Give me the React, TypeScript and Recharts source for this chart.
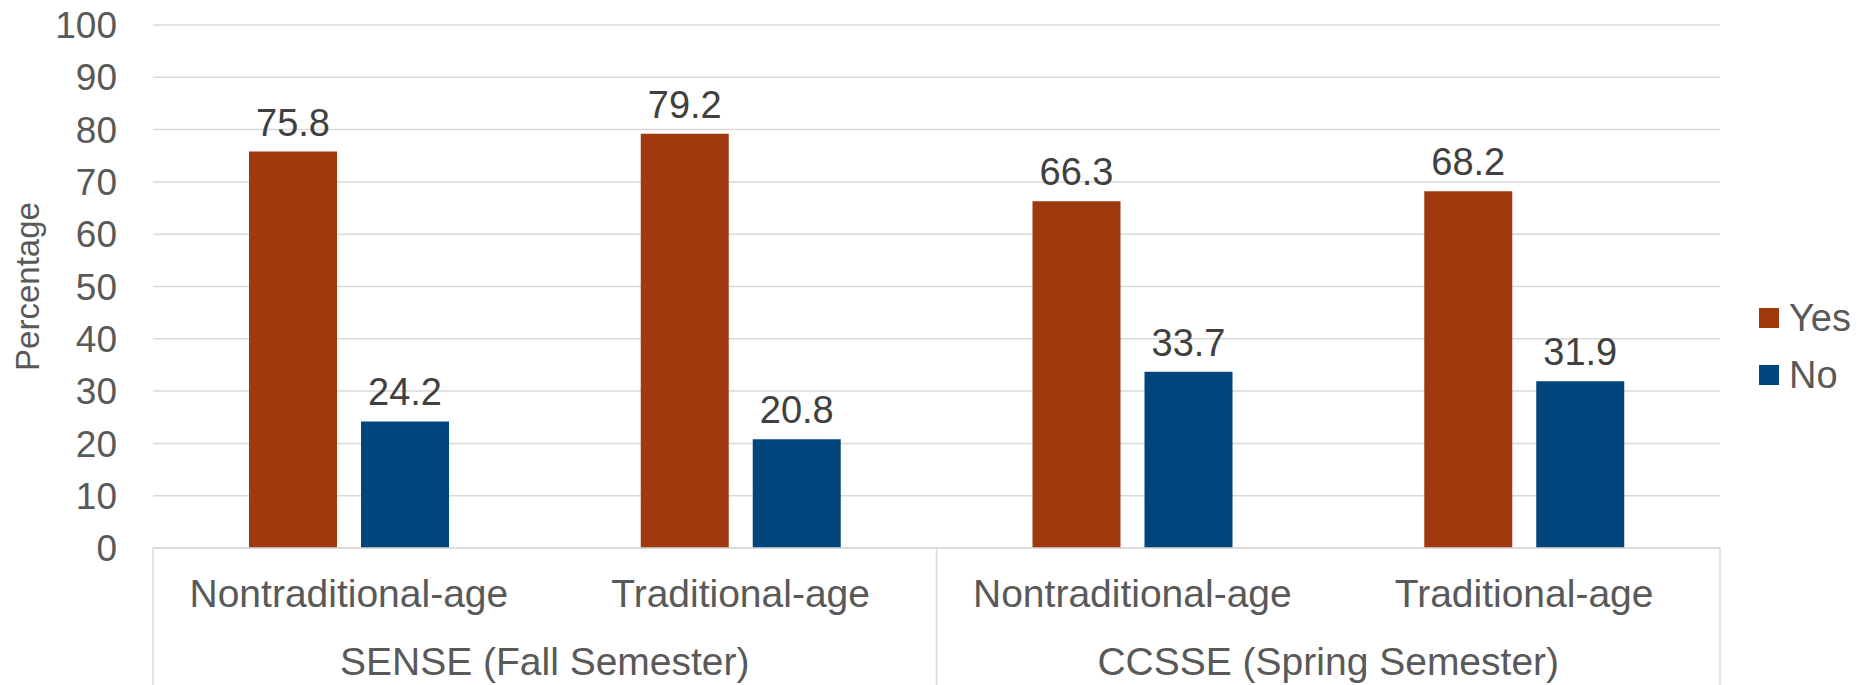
import { BarChart, Bar, XAxis, YAxis, CartesianGrid, Legend, LabelList } from "recharts";

const categories = ["Nontraditional-age", "Traditional-age", "Nontraditional-age", "Traditional-age"];
const groups = ["SENSE (Fall Semester)", "SENSE (Fall Semester)", "CCSSE (Spring Semester)", "CCSSE (Spring Semester)"];
const yesValues = [75.8, 79.2, 66.3, 68.2];
const noValues = [24.2, 20.8, 33.7, 31.9];
const yTicks = [0, 10, 20, 30, 40, 50, 60, 70, 80, 90, 100];
const legendOrder = ["Yes", "No"];

const data = categories.map((c, i) => ({ id: `${groups[i]}|${c}`, cat: c, group: groups[i], yes: yesValues[i], no: noValues[i] }));

const FONT = '"Liberation Sans", Arial, sans-serif';
const GRID = "#d9d9d9";
const TEXT = "#595959";

const CategoryTick = ({ x, y, index, payload }: any) => {
    const half = payload?.offset ?? 0;
    const isStart = index === 0 || groups[index] !== groups[index - 1];
    const isLast = index === categories.length - 1;
    return (
        <g>
            {isStart && <line x1={x - half} x2={x - half} y1={y} y2={y + 140} stroke={GRID} strokeWidth={1.5} />}
            {isLast && <line x1={x + half} x2={x + half} y1={y} y2={y + 140} stroke={GRID} strokeWidth={1.5} />}
            <text x={x} y={y + 59} textAnchor="middle" fontSize={39} fill={TEXT}>
                {categories[index]}
            </text>
        </g>
    );
};

const GroupTick = ({ x, y, payload }: any) => (
    <text x={x} y={y + 57} textAnchor="middle" fontSize={39} fill={TEXT}>
        {payload.value}
    </text>
);

const YLabel = ({ viewBox }: any) => {
    const cx = viewBox.x + 27;
    const cy = viewBox.y + viewBox.height / 2;
    return (
        <text x={cx} y={cy} transform={`rotate(-90 ${cx} ${cy})`} textAnchor="middle" dominantBaseline="central" fontSize={33} fill={TEXT}>
            Percentage
        </text>
    );
};

const LegendContent = ({ payload }: any) => {
    const items = [...(payload || [])].sort((a: any, b: any) => legendOrder.indexOf(a.value) - legendOrder.indexOf(b.value));
    return (
        <div style={{ fontFamily: FONT }}>
            {items.map((p: any, i: number) => (
                <div key={i} style={{ display: "flex", alignItems: "center", height: 57 }}>
                    <span style={{ width: 20, height: 20, background: p.color, marginRight: 10, display: "inline-block" }} />
                    <span style={{ fontSize: 38, color: TEXT, lineHeight: 1 }}>{p.value}</span>
                </div>
            ))}
        </div>
    );
};

export default function App() {
    return (
        <div style={{ position: "absolute", left: 0, top: 0, fontFamily: FONT, background: "#fff" }}>
            <BarChart width={1876} height={685} data={data} margin={{ top: 25, right: 156, bottom: 0, left: 0 }} barSize={88} barGap={24}>
                <CartesianGrid vertical={false} stroke={GRID} strokeWidth={1.5} />
                <XAxis dataKey="id" height={70} tickLine={false} tickSize={0} tickMargin={0} axisLine={{ stroke: GRID, strokeWidth: 1.5 }} tick={<CategoryTick />} interval={0} />
                <XAxis xAxisId="group" dataKey="group" allowDuplicatedCategory={false} height={67} tickLine={false} tickSize={0} tickMargin={0} axisLine={false} tick={<GroupTick />} interval={0} />
                <YAxis domain={[0, 100]} ticks={yTicks} width={153} axisLine={false} tickLine={false} tickMargin={30} tick={{ fontSize: 37, fill: TEXT }} label={<YLabel />} />
                <Legend layout="vertical" align="center" verticalAlign="middle" content={<LegendContent />} wrapperStyle={{ left: 1759, top: 289, width: "auto" }} />
                <Bar dataKey="yes" name="Yes" fill="#9e3a0e" isAnimationActive={false}>
                    <LabelList dataKey="yes" position="top" offset={16} fill="#404040" fontSize={38} />
                </Bar>
                <Bar dataKey="no" name="No" fill="#00457c" isAnimationActive={false}>
                    <LabelList dataKey="no" position="top" offset={16} fill="#404040" fontSize={38} />
                </Bar>
            </BarChart>
        </div>
    );
}
